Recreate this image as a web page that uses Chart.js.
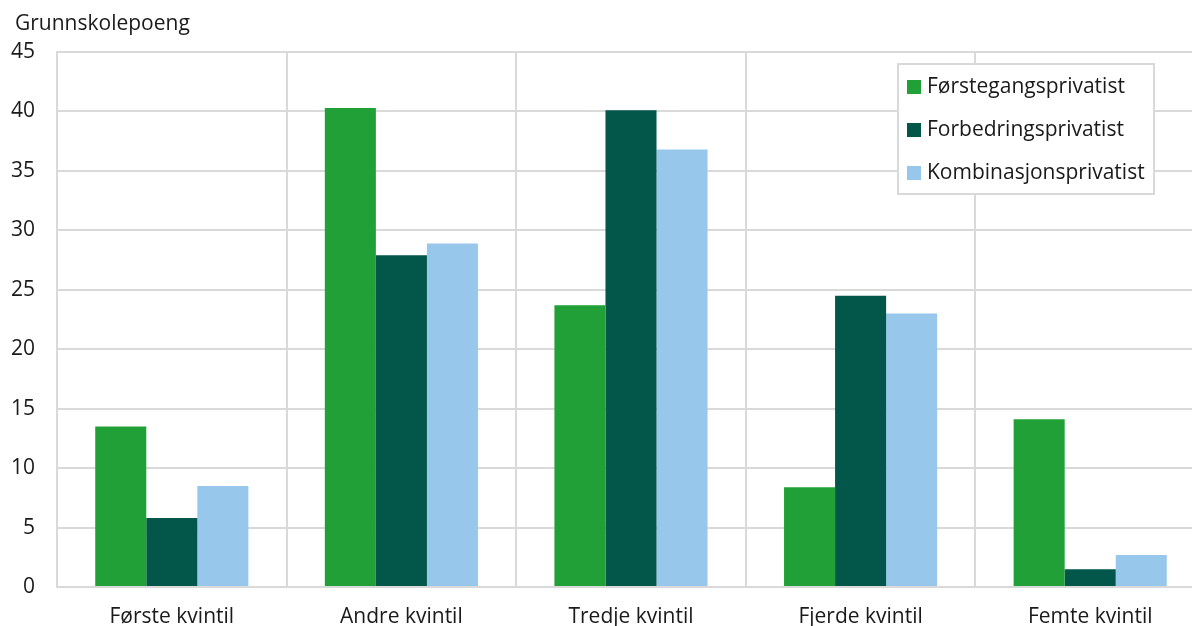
<!DOCTYPE html>
<html>
<head>
<meta charset="utf-8">
<script src="https://cdn.jsdelivr.net/npm/chart.js@4/dist/chart.umd.min.js"></script>
<style>
  html, body { margin: 0; padding: 0; overflow: hidden; background: #fff; }
  #wrap { width: 1205px; height: 640px; position: relative; }
</style>
</head>
<body>
<div id="wrap"><canvas id="chart"></canvas></div>
<script>
// Data
const categories = ["Første kvintil", "Andre kvintil", "Tredje kvintil", "Fjerde kvintil", "Femte kvintil"];
const forstegang = [13.5, 40.3, 23.7, 8.4, 14.1];
const forbedring = [5.8, 27.9, 40.1, 24.5, 1.5];
const kombinasjon = [8.5, 28.9, 36.8, 23.0, 2.7];
const seriesNames = ["Førstegangsprivatist", "Forbedringsprivatist", "Kombinasjonsprivatist"];
const colors = ["#21a038", "#02564a", "#97c8ec"];
const yTitle = "Grunnskolepoeng";

const FONT = "'Open Sans', 'Noto Sans', sans-serif";
const GRID = "#d9d9d9";
const TEXT = "#1a1a1a";

// Tittel og tegnforklaring
const extras = {
  id: "extras",
  afterDraw(chart) {
    const ctx = chart.ctx;
    ctx.save();
    ctx.font = "21px " + FONT;
    ctx.fillStyle = TEXT;
    ctx.textBaseline = "alphabetic";
    ctx.textAlign = "left";
    ctx.fillText(yTitle, 15, 30);

    // legend box
    ctx.fillStyle = "#fff";
    ctx.fillRect(898, 64, 256, 130);
    ctx.strokeStyle = GRID;
    ctx.lineWidth = 2;
    ctx.strokeRect(898, 64, 256, 130);
    const rows = [87, 130, 173];
    chart.data.datasets.forEach((ds, i) => {
      ctx.fillStyle = ds.backgroundColor;
      ctx.fillRect(907, rows[i] - 7, 14, 14);
      ctx.fillStyle = TEXT;
      ctx.textBaseline = "middle";
      ctx.fillText(ds.label, 927, rows[i]);
    });
    ctx.restore();
  }
};

new Chart(document.getElementById("chart"), {
  type: "bar",
  data: {
    labels: categories,
    datasets: [
      { label: seriesNames[0], data: forstegang, backgroundColor: colors[0] },
      { label: seriesNames[1], data: forbedring, backgroundColor: colors[1] },
      { label: seriesNames[2], data: kombinasjon, backgroundColor: colors[2] }
    ]
  },
  options: {
    responsive: true,
    maintainAspectRatio: false,
    animation: false,
    layout: { padding: { top: 52, left: 0, right: 0, bottom: 0 } },
    datasets: { bar: { categoryPercentage: 0.667, barPercentage: 1.0 } },
    plugins: { legend: { display: false }, tooltip: { enabled: false } },
    scales: {
      x: {
        grid: { color: GRID, lineWidth: 2, offset: true, drawTicks: false },
        border: { color: GRID, width: 2 },
        ticks: { color: TEXT, font: { family: FONT, size: 21 }, padding: 17, maxRotation: 0 },
        afterFit(scale) { scale.height = 53; }
      },
      y: {
        min: 0, max: 45,
        grid: { color: GRID, lineWidth: 2, drawTicks: false },
        border: { color: GRID, width: 2 },
        ticks: { stepSize: 5, color: TEXT, font: { family: FONT, size: 21 }, padding: 22 },
        afterFit(scale) { scale.width = 57; }
      }
    }
  },
  plugins: [extras]
});
</script>
</body>
</html>
